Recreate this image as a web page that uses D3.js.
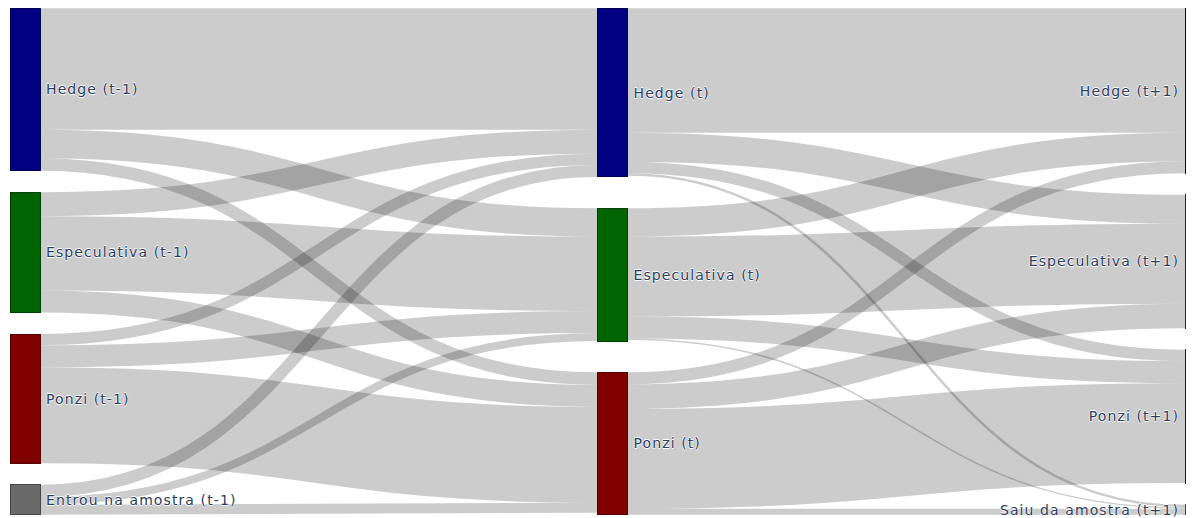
<!DOCTYPE html>
<html><head><meta charset="utf-8">
<script src="https://cdn.jsdelivr.net/npm/d3@7"></script>
<style>
body{margin:0;background:#fff;}
svg{display:block;overflow:hidden;}
.node text{font-family:"DejaVu Sans",Verdana,sans-serif;font-size:14px;letter-spacing:1.1px;fill:#2c3c5e;text-shadow:0 1px 0 #fff,0 0 2px #fff,0 -1px 0 #fff;}
</style></head><body>
<svg id="chart" width="1186" height="518"></svg>
<script>
// ---- data ----
const nodeNames = ["Hedge (t-1)","Especulativa (t-1)","Ponzi (t-1)","Entrou na amostra (t-1)",
                   "Hedge (t)","Especulativa (t)","Ponzi (t)",
                   "Hedge (t+1)","Especulativa (t+1)","Ponzi (t+1)","Saiu da amostra (t+1)"];
const nodeStages = [0,0,0,0,1,1,1,2,2,2,2];
const nodeClasses = ["Hedge","Especulativa","Ponzi","Amostra","Hedge","Especulativa","Ponzi","Hedge","Especulativa","Ponzi","Amostra"];
const linkSources = [0,0,0, 1,1,1, 2,2,2, 3,3,3, 4,4,4,4, 5,5,5,5, 6,6,6,6];
const linkTargets = [4,5,6, 4,5,6, 4,5,6, 4,5,6, 7,8,9,10, 7,8,9,10, 7,8,9,10];
const linkValues  = [121.5,28.5,12.5, 24,74.5,22, 11.3,22,96, 12,8,10,
                     124.5,29,11.5,2.5, 28.5,80,22,1.5, 12,24.5,100,6];

// ---- styles ----
const classColor = d3.scaleOrdinal()
  .domain(["Hedge","Especulativa","Ponzi","Amostra"])
  .range(["#000080","#006400","#800000","#6a6a6a"]);

const top0 = 8.3, innerH = 506.4, nodeWidth = 30, nodePadding = 21.5;
const xScale = d3.scalePoint().domain([0,1,2]).range([10,1185]);

// ---- layout ----
const nodes = nodeNames.map((name,i)=>({name, stage:nodeStages[i], cls:nodeClasses[i], sourceLinks:[], targetLinks:[]}));
const links = linkValues.map((v,i)=>({source:nodes[linkSources[i]], target:nodes[linkTargets[i]], value:v}));
links.forEach(l=>{l.source.sourceLinks.push(l); l.target.targetLinks.push(l);});
nodes.forEach(n=>{
  n.value = Math.max(d3.sum(n.sourceLinks,l=>l.value), d3.sum(n.targetLinks,l=>l.value));
  n.x = xScale(n.stage);
});
const columns = d3.groups(nodes, n=>n.stage).map(g=>g[1]);
const ky = d3.min(columns, col=>(innerH - (col.length-1)*nodePadding)/d3.sum(col,n=>n.value));
const yScale = d3.scaleLinear().domain([0,1]).range([0,ky]);
columns.forEach(col=>{
  const total = d3.sum(col,n=>yScale(n.value));
  const gap = col.length>1 ? (innerH-total)/(col.length-1) : 0;
  let y = top0;
  col.forEach(n=>{ n.y = y; n.dy = yScale(n.value); y += n.dy + gap; });
});
links.forEach(l=>{ l.dy = yScale(l.value); });
nodes.forEach(n=>{
  n.sourceLinks.sort((a,b)=>a.target.y-b.target.y);
  n.targetLinks.sort((a,b)=>a.source.y-b.source.y);
  let sy=0, ty=0;
  n.sourceLinks.forEach(l=>{ l.sy = sy; sy += l.dy; });
  n.targetLinks.forEach(l=>{ l.ty = ty; ty += l.dy; });
});

// ---- draw ----
const svg = d3.select("#chart");
const linkGen = d3.linkHorizontal()
  .source(d=>[d.source.x+nodeWidth, d.source.y+d.sy+d.dy/2])
  .target(d=>[d.target.x, d.target.y+d.ty+d.dy/2]);

svg.append("g").selectAll("path")
  .data(links.slice().sort((a,b)=>b.dy-a.dy))
  .join("path")
  .attr("d", linkGen)
  .attr("fill","none")
  .attr("stroke","#000")
  .attr("stroke-opacity",0.2)
  .attr("stroke-width", d=>Math.max(1,d.dy));

const node = svg.append("g").selectAll("g")
  .data(nodes).join("g").attr("class","node")
  .attr("transform", d=>`translate(${d.x},${d.y})`);

node.append("rect")
  .attr("width", nodeWidth)
  .attr("height", d=>d.dy)
  .attr("fill", d=>classColor(d.cls))
  .attr("stroke", d=>d3.rgb(classColor(d.cls)).darker(1.2))
  .attr("shape-rendering","crispEdges");

node.append("text")
  .attr("x", d=>d.stage<2 ? nodeWidth+6 : -6)
  .attr("y", d=>d.dy/2)
  .attr("dy", "0.35em")
  .attr("text-anchor", d=>d.stage<2 ? "start" : "end")
  .text(d=>d.name);
</script>
</body></html>
